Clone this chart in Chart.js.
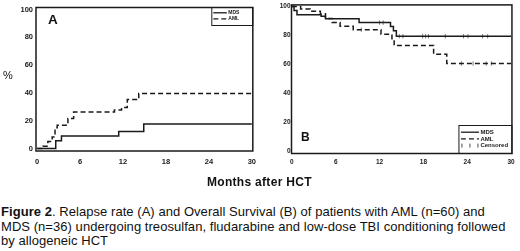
<!DOCTYPE html>
<html>
<head>
<meta charset="utf-8">
<script src="https://cdn.jsdelivr.net/npm/chart.js@4.4.1/dist/chart.umd.min.js"></script>
<style>
  body { margin: 0; background: #fff; width: 520px; height: 251px; overflow: hidden; position: relative; font-family: "Liberation Sans", Arial, sans-serif; color: #111; }
  canvas { position: absolute; top: 0; }
  #cA { left: 0; }
  #cB { left: 262px; }
  .lbl { position: absolute; white-space: nowrap; }
  #pct { left: 3px; top: 69px; font-size: 11px; }
  #tA { left: 48px; top: 12px; font-size: 13.5px; font-weight: bold; }
  #tB { left: 301px; top: 130px; font-size: 12px; font-weight: bold; }
  #xt { left: 207px; top: 175px; font-size: 12px; font-weight: bold; letter-spacing: 0.3px; }
  #cap { position: absolute; left: 1px; top: 205px; font-size: 13px; line-height: 14.5px; white-space: nowrap; letter-spacing: 0.05px; }
</style>
</head>
<body>
<canvas id="cA" width="262" height="172"></canvas>
<canvas id="cB" width="258" height="172"></canvas>
<div class="lbl" id="pct">%</div>
<div class="lbl" id="tA">A</div>
<div class="lbl" id="tB">B</div>
<div class="lbl" id="xt">Months after HCT</div>
<div id="cap"><b>Figure 2</b>. Relapse rate (A) and Overall Survival (B) of patients with AML (n=60) and<br>MDS (n=36) undergoing treosulfan, fludarabine and low-dose TBI conditioning followed<br>by allogeneic HCT</div>
<script>
// tick labels
var monthTicks = [0, 6, 12, 18, 24, 30];
var pctTicks = [0, 20, 40, 60, 80, 100];

// A: relapse (cumulative incidence), step points (month, %)
var mdsRelapseX = [0, 2.6, 3.4, 11.4, 14.9, 30];
var mdsRelapseY = [0, 5.6, 9.0, 12.3, 17.7, 17.7];
var amlRelapseX = [0, 0.8, 1.5, 2.1, 2.5, 2.8, 4.3, 5.1, 10.8, 11.8, 12.6, 14.2, 30];
var amlRelapseY = [0, 1.7, 5.0, 8.3, 15.0, 16.7, 21.7, 26.3, 27.8, 29.5, 35.2, 39.6, 39.6];

// B: overall survival
var mdsSurvX = [0, 0.3, 0.7, 4.0, 4.6, 9.2, 13.5, 13.9, 14.3, 30];
var mdsSurvY = [100, 97.2, 94.4, 93.2, 91.6, 88.9, 86.1, 83.3, 79.4, 79.4];
var amlSurvX = [0, 1.2, 2.5, 3.9, 4.6, 5.5, 6.6, 8.4, 12.2, 13.7, 14.0, 19.4, 21.2, 30];
var amlSurvY = [100, 98.3, 96.7, 95.0, 91.7, 88.9, 86.4, 84.0, 80.8, 77.0, 73.0, 66.9, 60.5, 60.5];
var mdsCensorX = [12.0, 12.5, 14.7, 15.2, 17.9, 18.3, 18.7, 21.0, 23.5, 24.1, 26.1, 26.8];
var mdsCensorY = [88.9, 88.9, 79.4, 79.4, 79.4, 79.4, 79.4, 79.4, 79.4, 79.4, 79.4, 79.4];
var amlCensorX = [9.5, 23.2, 24.8, 26.6, 27.3];
var amlCensorY = [84.0, 60.5, 60.5, 60.5, 60.5];

function pts(xs, ys) {
  return xs.map(function (x, i) { return { x: x, y: ys[i] }; });
}

var ink = '#1a1a1a';

// frame around plot area + small boxed legend inside it
var boxLegend = {
  id: 'boxLegend',
  afterDraw: function (chart, args, o) {
    var ctx = chart.ctx, a = chart.chartArea;
    ctx.save();
    ctx.lineWidth = 1.5;
    ctx.strokeStyle = ink;
    ctx.strokeRect(a.left, a.top, a.right - a.left, a.bottom - a.top);

    var bx = a.right - o.w;
    var by = o.bottom ? a.bottom - o.h : a.top;
    ctx.lineWidth = 1;
    ctx.strokeRect(bx, by, o.w, o.h);
    ctx.font = 'bold ' + o.size + 'px "Liberation Sans", Arial';
    ctx.fillStyle = ink;
    ctx.textBaseline = 'middle';
    chart.data.datasets.forEach(function (ds, i) {
      if (!ds.label) return;
      var y = by + o.first + i * o.gap;
      ctx.strokeStyle = ink;
      if (ds.showLine === false) {
        ctx.lineWidth = 0.8;
        for (var k = 0; k < 3; k++) {
          var tx = bx + o.pad + 1 + k * (o.len - 2) / 2;
          ctx.beginPath(); ctx.moveTo(tx, y - 2); ctx.lineTo(tx, y + 2); ctx.stroke();
        }
      } else {
        ctx.lineWidth = 1.3;
        ctx.setLineDash(ds.borderDash || []);
        ctx.beginPath(); ctx.moveTo(bx + o.pad, y); ctx.lineTo(bx + o.pad + o.len, y); ctx.stroke();
        ctx.setLineDash([]);
      }
      ctx.fillText(ds.label, bx + o.pad + o.len + 1.5, y);
    });
    ctx.restore();
  }
};

function makeChart(id, datasets, cfg) {
  return new Chart(document.getElementById(id), {
    type: 'line',
    data: { datasets: datasets },
    plugins: [boxLegend],
    options: {
      responsive: false,
      animation: false,
      layout: { padding: cfg.padding },
      elements: { point: { radius: 0 } },
      plugins: {
        legend: { display: false },
        tooltip: { enabled: false },
        boxLegend: cfg.legend
      },
      scales: {
        x: {
          type: 'linear', min: cfg.xMin, max: cfg.xMax,
          grid: { display: false, drawTicks: false },
          border: { display: false },
          afterBuildTicks: function (s) { s.ticks = monthTicks.map(function (v) { return { value: v }; }); },
          afterFit: function (s) { s.height = cfg.xH; },
          ticks: { padding: cfg.xPad, maxRotation: 0, color: ink, font: { family: '"Liberation Sans", Arial', size: cfg.fs, weight: 'bold' } }
        },
        y: {
          min: cfg.yMin, max: cfg.yMax,
          grid: { display: false, drawTicks: false },
          border: { display: false },
          afterBuildTicks: function (s) { s.ticks = pctTicks.map(function (v) { return { value: v }; }); },
          afterFit: function (s) { s.width = cfg.yW; },
          ticks: { padding: cfg.yPad, color: ink, font: { family: '"Liberation Sans", Arial', size: cfg.fs, weight: 'bold' } }
        }
      }
    }
  });
}

function lineSet(label, xs, ys, dash) {
  return {
    label: label, data: pts(xs, ys), stepped: true, fill: false,
    borderColor: ink, borderWidth: 1.5, borderDash: dash || [], pointRadius: 0
  };
}

makeChart('cA', [
  lineSet('MDS', mdsRelapseX, mdsRelapseY),
  lineSet('AML', amlRelapseX, amlRelapseY, [5, 3])
], {
  padding: { top: 4, right: 4, left: 0, bottom: 0 },
  xMin: -0.16, xMax: 30.14, yMin: -1.75, yMax: 101.4,
  xH: 21, yW: 36, xPad: 6, yPad: 3, fs: 7.5,
  legend: { bottom: false, w: 41, h: 18, first: 5.3, gap: 6, pad: 1.5, len: 13.5, size: 5 }
});

var censorStyle = {
  type: 'scatter', showLine: false, pointStyle: 'line', rotation: 90,
  pointRadius: 2.2, borderColor: '#555', borderWidth: 0.8, backgroundColor: '#555'
};

makeChart('cB', [
  lineSet('MDS', mdsSurvX, mdsSurvY),
  lineSet('AML', amlSurvX, amlSurvY, [5, 3]),
  Object.assign({ label: 'Censored', data: pts(mdsCensorX, mdsCensorY) }, censorStyle),
  Object.assign({ label: '', data: pts(amlCensorX, amlCensorY) }, censorStyle)
], {
  padding: { top: 2, right: 3.5, left: 0, bottom: 0 },
  xMin: -0.05, xMax: 30.12, yMin: -1.9, yMax: 101.15,
  xH: 18.5, yW: 29.5, xPad: 5.3, yPad: 1, fs: 6.5,
  legend: { bottom: true, w: 53, h: 28, first: 6.7, gap: 6.7, pad: 2, len: 18, size: 6 }
});
</script>
</body>
</html>
